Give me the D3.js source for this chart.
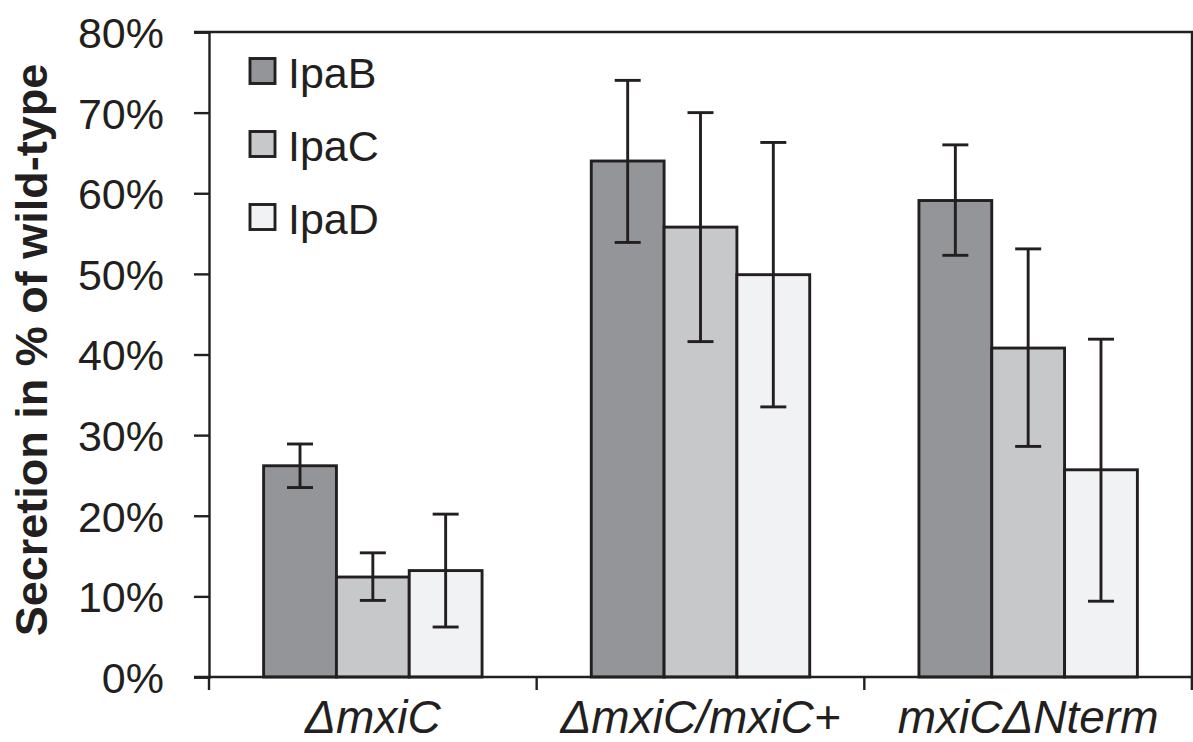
<!DOCTYPE html>
<html>
<head>
<meta charset="utf-8">
<script src="https://cdn.jsdelivr.net/npm/d3@7"></script>
<style>
  html, body { margin: 0; padding: 0; background: #ffffff; }
  svg { display: block; }
  text { font-family: "Liberation Sans", Arial, Helvetica, sans-serif; fill: #231f20; }
</style>
</head>
<body>
<svg id="chart" width="1193" height="742"></svg>
<script>
// ---- data ----
const categories = ["ΔmxiC", "ΔmxiC/mxiC+", "mxiCΔNterm"];
const series = ["IpaB", "IpaC", "IpaD"];
const colors = ["#939598", "#c7c8ca", "#f1f2f3"];
const ipaB = [0.262, 0.640, 0.591];
const ipaC = [0.124, 0.558, 0.408];
const ipaD = [0.132, 0.499, 0.257];
const ipaBLow  = [0.235, 0.539, 0.523];
const ipaBHigh = [0.289, 0.740, 0.660];
const ipaCLow  = [0.095, 0.416, 0.286];
const ipaCHigh = [0.154, 0.700, 0.531];
const ipaDLow  = [0.062, 0.335, 0.094];
const ipaDHigh = [0.202, 0.663, 0.419];
const yTicks = [0, 0.1, 0.2, 0.3, 0.4, 0.5, 0.6, 0.7, 0.8];
const yTitle = "Secretion in % of wild-type";

const values = [ipaB, ipaC, ipaD];
const lows = [ipaBLow, ipaCLow, ipaDLow];
const highs = [ipaBHigh, ipaCHigh, ipaDHigh];

const rows = [];
categories.forEach((c, ci) => {
  series.forEach((s, si) => {
    rows.push({cat: c, ser: s, si: si, v: values[si][ci], lo: lows[si][ci], hi: highs[si][ci]});
  });
});

// ---- layout ----
const pLeft = 209, pRight = 1192, pTop = 32, pBottom = 677;
const ink = "#231f20";
const fs = 43;

const svg = d3.select("#chart");

const x0 = d3.scaleBand().domain(categories).range([pLeft, pRight]).padding(0);
const bw = x0.bandwidth();
const x1 = d3.scaleBand().domain(series).range([bw / 6, bw * 5 / 6]).padding(0);
const y = d3.scaleLinear().domain([0, 0.8]).range([pBottom, pTop]);

// frame (top + right)
svg.append("path")
  .attr("d", `M${pLeft - 15},${pTop}H${pRight}V${pBottom + 13}`)
  .attr("fill", "none").attr("stroke", ink).attr("stroke-width", 2.4);

// bars
svg.append("g").selectAll("rect").data(rows).join("rect")
  .attr("x", d => x0(d.cat) + x1(d.ser))
  .attr("y", d => y(d.v))
  .attr("width", x1.bandwidth())
  .attr("height", d => y(0) - y(d.v))
  .attr("fill", d => colors[d.si])
  .attr("stroke", ink).attr("stroke-width", 2.9);

// error bars
const eb = svg.append("g").attr("stroke", ink).attr("stroke-width", 2.9).attr("fill", "none");
rows.forEach(d => {
  const cx = x0(d.cat) + x1(d.ser) + x1.bandwidth() / 2;
  eb.append("line").attr("x1", cx).attr("x2", cx).attr("y1", y(d.hi)).attr("y2", y(d.lo));
  eb.append("line").attr("x1", cx - 13).attr("x2", cx + 13).attr("y1", y(d.hi)).attr("y2", y(d.hi));
  eb.append("line").attr("x1", cx - 13).attr("x2", cx + 13).attr("y1", y(d.lo)).attr("y2", y(d.lo));
});

// y axis
const yAxis = svg.append("g").attr("transform", `translate(${pLeft},0)`)
  .call(d3.axisLeft(y).tickValues(yTicks).tickFormat(d3.format(".0%")).tickSize(15).tickPadding(30));
yAxis.select(".domain").attr("stroke", ink).attr("stroke-width", 2.4);
yAxis.selectAll(".tick line").attr("stroke", ink).attr("stroke-width", 2.4);
yAxis.selectAll(".tick text")
  .attr("font-size", fs).attr("font-family", "'Liberation Sans', Arial, sans-serif")
  .attr("fill", ink).attr("dy", "0.36em");

// x axis
const xAxis = svg.append("g").attr("transform", `translate(0,${pBottom})`)
  .call(d3.axisBottom(x0).tickSize(0).tickPadding(23));
xAxis.select(".domain").remove();
xAxis.append("line").attr("x1", pLeft - 15).attr("x2", pRight).attr("y1", 0).attr("y2", 0)
  .attr("stroke", ink).attr("stroke-width", 2.4);
const bounds = categories.map(c => x0(c)).concat([x0(categories[categories.length - 1]) + bw]);
xAxis.selectAll("line.bt").data(bounds).join("line").attr("class", "bt")
  .attr("x1", d => d).attr("x2", d => d).attr("y1", 0).attr("y2", 13)
  .attr("stroke", ink).attr("stroke-width", 2.4);
xAxis.selectAll(".tick text")
  .attr("font-size", 46).attr("font-style", "italic")
  .attr("font-family", "'Liberation Sans', Arial, sans-serif")
  .attr("fill", ink).attr("dy", "0.71em");

// y title
svg.append("text")
  .attr("transform", `translate(47,350) rotate(-90)`)
  .attr("text-anchor", "middle")
  .attr("font-size", 45).attr("font-weight", "bold")
  .text(yTitle);

// legend
const lg = svg.append("g").selectAll("g").data(series).join("g")
  .attr("transform", (d, i) => `translate(250,${58.5 + i * 73})`);
lg.append("rect").attr("width", 25).attr("height", 25)
  .attr("fill", (d, i) => colors[i]).attr("stroke", ink).attr("stroke-width", 2.9);
lg.append("text").attr("x", 38).attr("y", 29.5).attr("font-size", fs).text(d => d);
</script>
</body>
</html>
